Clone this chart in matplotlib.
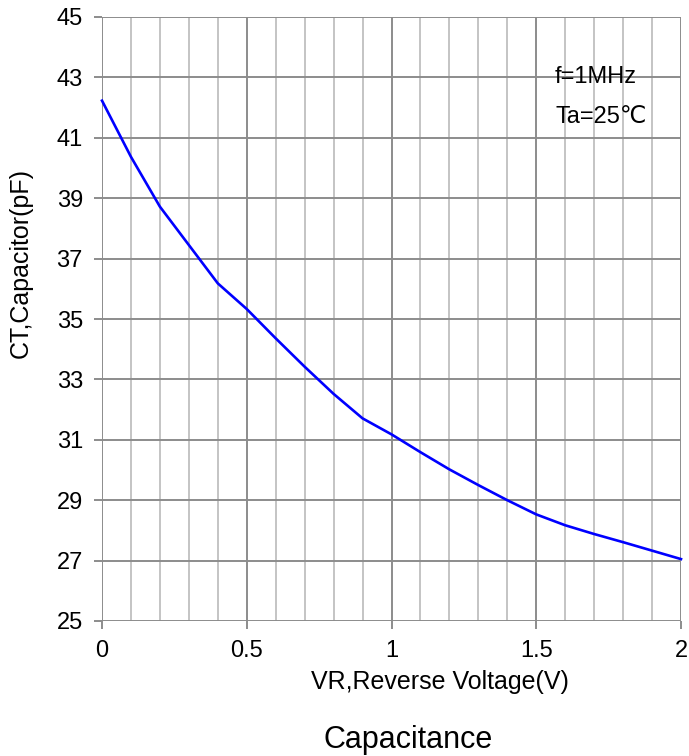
import matplotlib
matplotlib.use("Agg")
from matplotlib import pyplot as plt
import numpy as np

# reverse voltage (V) and capacitance (pF)
vr = [0.0, 0.1, 0.2, 0.3, 0.4, 0.5, 0.6, 0.7, 0.8, 0.9, 1.0,
      1.1, 1.2, 1.3, 1.4, 1.5, 1.6, 1.7, 1.8, 1.9, 2.0]
ct = [42.23, 40.37, 38.72, 37.45, 36.18, 35.33, 34.36, 33.42, 32.52, 31.71, 31.18,
      30.59, 30.02, 29.50, 29.00, 28.53, 28.17, 27.88, 27.61, 27.33, 27.05]

x_major = [0, 0.5, 1, 1.5, 2]
x_labels = ["0", "0.5", "1", "1.5", "2"]
y_ticks = [25, 27, 29, 31, 33, 35, 37, 39, 41, 43, 45]
notes = ["f=1MHz", "Ta=25\u2103"]

plt.rcParams['font.family'] = ['Liberation Sans', 'DejaVu Sans']
fs = 17

W, H = 689, 756
fig = plt.figure(figsize=(W/100, H/100), dpi=100)
ax = fig.add_axes([102/W, 1 - 621/H, 579/W, 604/H])

ax.set_xlim(0, 2)
ax.set_ylim(25, 45)
ax.set_xticks(x_major)
ax.set_xticklabels(x_labels, fontsize=fs)
ax.set_xticks(np.arange(0, 2.01, 0.1), minor=True)
ax.set_yticks(y_ticks)
ax.set_yticklabels([str(t) for t in y_ticks], fontsize=fs)

ax.grid(which='minor', axis='x', color='#c4c4c4', linewidth=1.4)
ax.grid(which='major', axis='x', color='#8c8c8c', linewidth=1.4)
ax.grid(which='major', axis='y', color='#8c8c8c', linewidth=1.4)
ax.set_axisbelow(True)
for s in ax.spines.values():
    s.set_visible(False)
ax.tick_params(which='major', length=5.8, width=1.4, color='#8c8c8c')
ax.tick_params(which='minor', length=0)
ax.tick_params(axis='y', pad=8)
ax.tick_params(axis='x', pad=8)

ax.plot(vr, ct, color='#0000ff', linewidth=1.9, clip_on=False, zorder=3)

ax.text(1.565, 43.0, notes[0], fontsize=fs, va='center', ha='left')
ax.text(1.565, 41.7, notes[1], fontsize=fs, va='center', ha='left')

fig.text(21/W, 1 - 263/H, "CT,Capacitor(pF)", fontsize=18, rotation=90,
         ha='center', va='center')
fig.text(440/W, 1 - 682/H, "VR,Reverse Voltage(V)", fontsize=18,
         ha='center', va='center')
fig.text(408/W, 1 - 740/H, "Capacitance", fontsize=22, ha='center', va='center')

fig.savefig("out.png", dpi=100)
